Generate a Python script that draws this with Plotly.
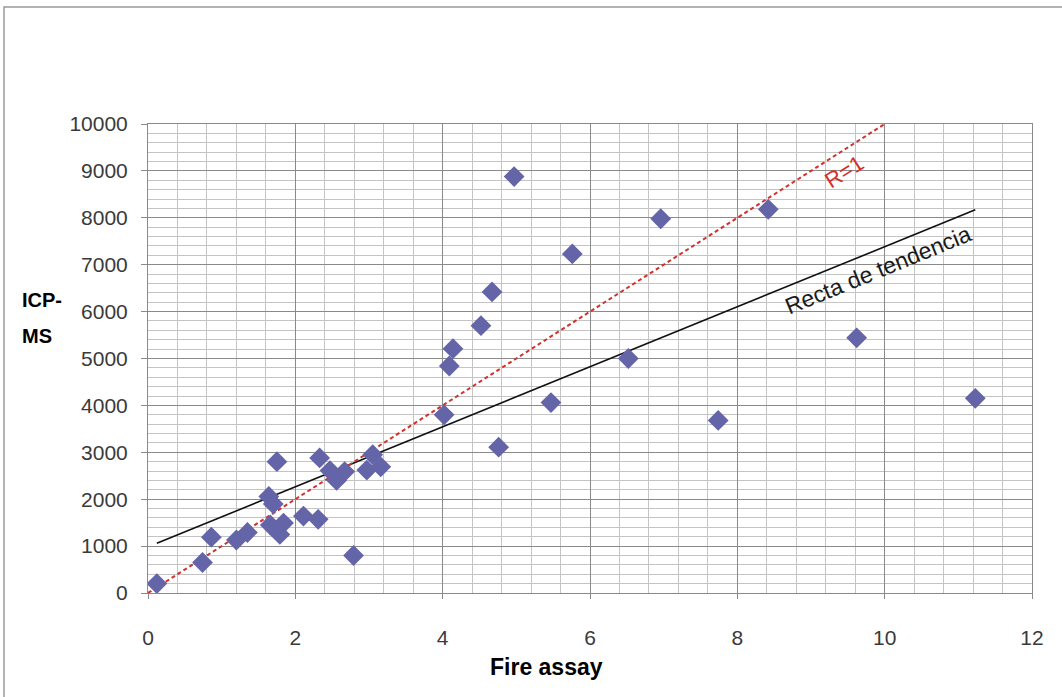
import plotly.graph_objects as go

# ---- data ----
fire_assay = [0.12, 0.74, 0.86, 1.20, 1.35, 1.64, 1.70, 1.66, 1.75, 1.79, 1.84,
              2.11, 2.31, 2.33, 2.47, 2.56, 2.67, 2.79, 2.97, 3.05, 3.16,
              4.02, 4.09, 4.14, 4.52, 4.67, 4.76, 4.97, 5.47, 5.76, 6.52,
              6.96, 7.74, 8.42, 9.62, 11.23]
icp_ms = [200, 650, 1190, 1130, 1290, 2060, 1900, 1450, 2800, 1250, 1490,
          1640, 1570, 2880, 2610, 2400, 2590, 800, 2620, 2950, 2690,
          3800, 4840, 5210, 5700, 6420, 3110, 8880, 4060, 7230, 5000,
          7980, 3680, 8180, 5440, 4150]

trend_slope = 640.0       # trend line
trend_intercept = 983.0
ratio_r1 = 1000.0         # R=1 line: ICP-MS = 1000 * Fire assay

x_range = [0, 12]
y_range = [0, 10000]
x_ticks = [0, 2, 4, 6, 8, 10, 12]
y_ticks = [0, 1000, 2000, 3000, 4000, 5000, 6000, 7000, 8000, 9000, 10000]

# derived lines
trend_x = [min(fire_assay), max(fire_assay)]
trend_y = [trend_slope * v + trend_intercept for v in trend_x]
r1_x = x_range
r1_y = [ratio_r1 * v for v in r1_x]

MAJOR = "#8a8a8a"
MINOR = "#c4c4c4"
TXT = "#3a3a3a"
FONT = "Liberation Sans, Arial, sans-serif"

fig = go.Figure()
fig.add_trace(go.Scatter(x=trend_x, y=trend_y, mode="lines",
                         line=dict(color="#111111", width=1.6),
                         showlegend=False, hoverinfo="skip"))
fig.add_trace(go.Scatter(x=r1_x, y=r1_y, mode="lines",
                         line=dict(color="#d2302c", width=2, dash="4px,3px"),
                         showlegend=False, hoverinfo="skip"))
fig.add_trace(go.Scatter(x=fire_assay, y=icp_ms, mode="markers",
                         marker=dict(symbol="diamond", size=16, color="#6464a8",
                                     line=dict(width=0)),
                         showlegend=False))

fig.update_xaxes(range=x_range, tickvals=x_ticks, ticktext=[str(v) for v in x_ticks],
                 showgrid=True, gridcolor=MAJOR, gridwidth=1,
                 minor=dict(dtick=0.4, showgrid=True, gridcolor=MINOR, gridwidth=1),
                 showline=True, linecolor=MAJOR, linewidth=1, mirror=True,
                 ticks="outside", ticklen=5, tickcolor=MAJOR,
                 ticklabelstandoff=21,
                 tickfont=dict(family=FONT, size=21, color=TXT),
                 zeroline=False, fixedrange=True)
fig.update_yaxes(range=y_range, tickvals=y_ticks, ticktext=[str(v) for v in y_ticks],
                 showgrid=True, gridcolor=MAJOR, gridwidth=1,
                 minor=dict(dtick=200, showgrid=True, gridcolor=MINOR, gridwidth=1),
                 showline=True, linecolor=MAJOR, linewidth=1, mirror=True,
                 ticks="outside", ticklen=6, tickcolor=MAJOR,
                 ticklabelstandoff=9,
                 tickfont=dict(family=FONT, size=21, color=TXT),
                 zeroline=False, fixedrange=True)

fig.add_annotation(text="R=1", x=9.46, y=8977, xref="x", yref="y",
                   showarrow=False, textangle=-32.5,
                   font=dict(family=FONT, size=22, color="#d2302c"))
fig.add_annotation(text="Recta de tendencia", x=9.91, y=6880, xref="x", yref="y",
                   showarrow=False, textangle=-22.2,
                   font=dict(family=FONT, size=23, color="#1a1a1a"))

fig.add_annotation(text="<b>Fire assay</b>", x=0.451, y=-0.158, xref="paper", yref="paper",
                   showarrow=False, xanchor="center", yanchor="middle",
                   font=dict(family=FONT, size=23, color="#000000"))
fig.add_annotation(text="<b>ICP-</b>", x=-0.1448, y=0.6247, xref="paper", yref="paper",
                   showarrow=False, xanchor="left", yanchor="middle",
                   font=dict(family=FONT, size=20, color="#000000"))
fig.add_annotation(text="<b>MS</b>", x=-0.1448, y=0.548, xref="paper", yref="paper",
                   showarrow=False, xanchor="left", yanchor="middle",
                   font=dict(family=FONT, size=20, color="#000000"))

# outer chart frame
fig.add_shape(type="rect", xref="paper", yref="paper",
              x0=-0.1629, y0=-0.26, x1=1.10, y1=1.2495,
              line=dict(color="#9a9a9a", width=1.5), fillcolor="rgba(0,0,0,0)",
              layer="below")

fig.update_layout(width=1062, height=697,
                  margin=dict(l=148, r=30, t=124, b=104),
                  paper_bgcolor="white", plot_bgcolor="white",
                  showlegend=False)

fig.write_html("out.html", config={"displayModeBar": False})
